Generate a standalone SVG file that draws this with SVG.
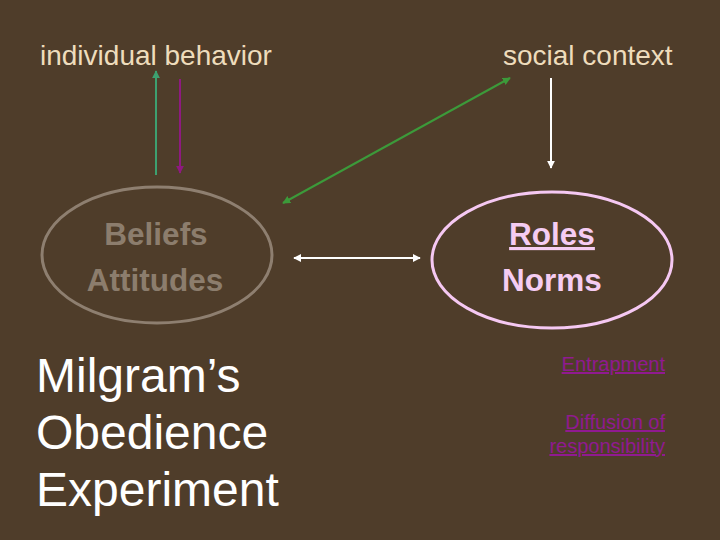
<svg xmlns="http://www.w3.org/2000/svg" width="720" height="540" viewBox="0 0 720 540">
<style>
.top{font-family:"Liberation Sans",Arial,sans-serif;font-size:28px;fill:#EEDCBC}
.bold{font-family:"Liberation Sans",Arial,sans-serif;font-size:31.5px;font-weight:bold;text-anchor:middle}
.big{font-family:"Liberation Sans",Arial,sans-serif;font-size:48px;fill:#FFFFFF}
.link{font-family:"Liberation Sans",Arial,sans-serif;font-size:20px;fill:#901A90;text-anchor:end;text-decoration:underline}
</style>
<defs>
<marker id="aTeal" viewBox="0 0 10 10" refX="9" refY="5" markerWidth="4" markerHeight="4" orient="auto-start-reverse"><path d="M0,0L10,5L0,10z" fill="#3DA070"/></marker>
<marker id="aPurple" viewBox="0 0 10 10" refX="9" refY="5" markerWidth="4" markerHeight="4" orient="auto-start-reverse"><path d="M0,0L10,5L0,10z" fill="#8E1A80"/></marker>
<marker id="aGreen" viewBox="0 0 10 10" refX="9" refY="5" markerWidth="4" markerHeight="4" orient="auto-start-reverse"><path d="M0,0L10,5L0,10z" fill="#3C9A3A"/></marker>
<marker id="aWhite" viewBox="0 0 10 10" refX="9" refY="5" markerWidth="4" markerHeight="4" orient="auto-start-reverse"><path d="M0,0L10,5L0,10z" fill="#FFFFFF"/></marker>
</defs>
<rect width="720" height="540" fill="#4F3D2A"/>
<g id="individual-behavior"><text class="top" x="40" y="65">individual behavior</text></g>
<g id="social-context"><text class="top" x="503" y="65">social context</text></g>
<g id="beliefs">
<ellipse cx="157" cy="255" rx="115" ry="68" fill="none" stroke="#8E7F70" stroke-width="3"/>
<text class="bold" x="156" y="245" fill="#8C7D6D">Beliefs</text>
<text class="bold" x="155" y="291" fill="#8C7D6D">Attitudes</text>
</g>
<g id="roles">
<ellipse cx="552" cy="260" rx="120" ry="68" fill="none" stroke="#F5C8F2" stroke-width="3"/>
<text class="bold" x="552" y="245" fill="#F5CCF2" text-decoration="underline">Roles</text>
<text class="bold" x="552" y="291" fill="#F5CCF2">Norms</text>
</g>
<g id="title"><text class="big" x="36" y="392">Milgram’s</text><text class="big" x="36" y="449">Obedience</text><text class="big" x="36" y="506">Experiment</text></g>
<g id="links">
<text class="link" x="665" y="371">Entrapment</text>
<text class="link" x="665" y="429">Diffusion of</text>
<text class="link" x="665" y="453">responsibility</text>
</g>
<g id="connectors" fill="none" stroke-width="2">
<line x1="156" y1="175" x2="156" y2="71" stroke="#3DA070" marker-end="url(#aTeal)"/>
<line x1="180" y1="79" x2="180" y2="173" stroke="#8E1A80" marker-end="url(#aPurple)"/>
<line x1="283" y1="203" x2="510" y2="78" stroke="#3C9A3A" marker-start="url(#aGreen)" marker-end="url(#aGreen)"/>
<line x1="551" y1="78" x2="551" y2="168" stroke="#FFFFFF" marker-end="url(#aWhite)"/>
<line x1="294" y1="258" x2="420" y2="258" stroke="#FFFFFF" marker-start="url(#aWhite)" marker-end="url(#aWhite)"/>
</g>
</svg>
